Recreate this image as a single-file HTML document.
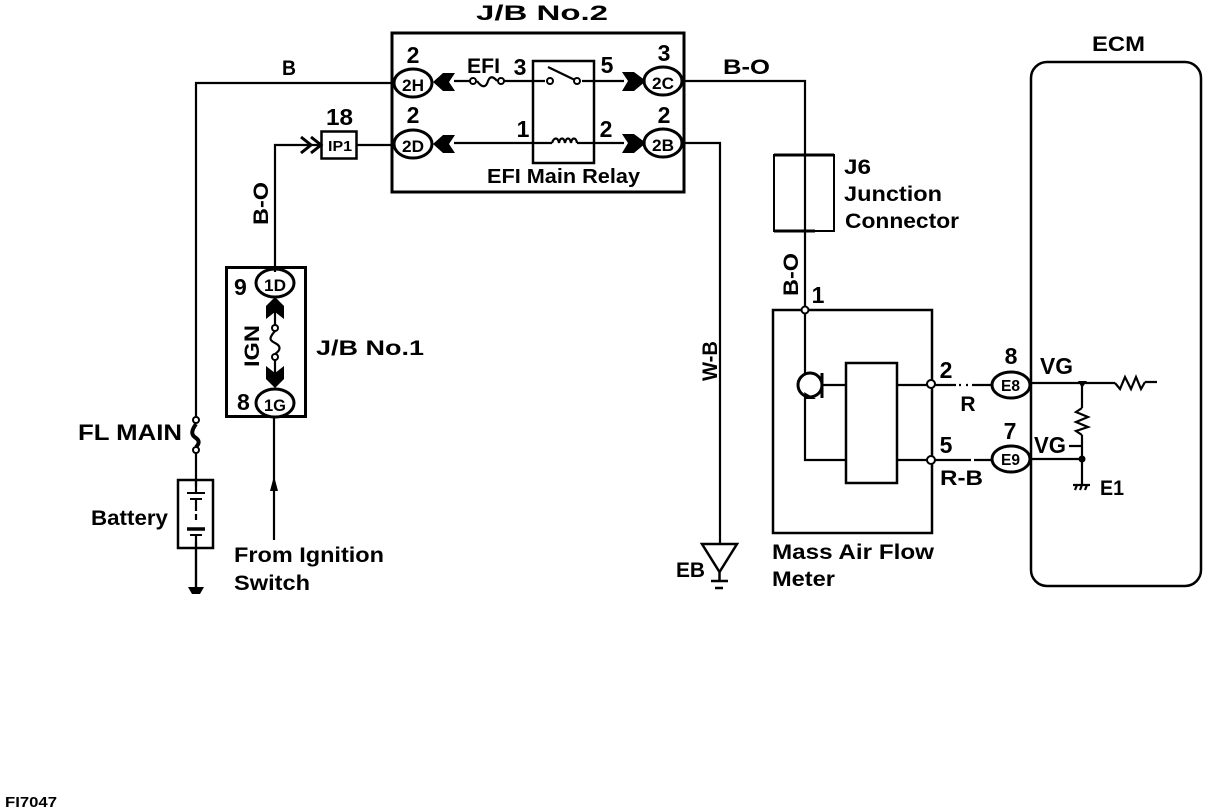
<!DOCTYPE html>
<html><head><meta charset="utf-8"><style>
html,body{margin:0;padding:0;background:#fff}
svg{display:block}
text{font-family:"Liberation Sans",sans-serif;fill:#000;font-weight:bold;stroke:none}
.w{fill:none;stroke:#000;stroke-width:2.200}
.t{fill:none;stroke:#000;stroke-width:3}
.o{fill:#fff;stroke:#000;stroke-width:3}
.c{fill:#fff;stroke:#000;stroke-width:2}
.k{fill:#000;stroke:none}
</style></head><body>
<svg width="1216" height="812" viewBox="0 0 1216 812" xmlns="http://www.w3.org/2000/svg">
<!-- wires -->
<path class="w" d="M392 83H196V420M196 450V590"/>
<path class="w" d="M392 145H357M321 145H275V268"/>
<path class="w" d="M684 81H805V310"/>
<path class="w" d="M684 143H720V545"/>
<path class="w" d="M274 417V540"/>
<path class="w" d="M454 81H473M501 81H545M582 81H624M454 143H552M577 143H624"/>
<path class="w" d="M932 385H956M959 385H961M966 385H968M972 385H992M932 460H971M974 460H992M1030 383H1115M1145 382H1157M1030 459H1082"/>
<path class="w" d="M1082 383V408M1082 435V486M1069 446H1082"/>
<!-- J/B No.2 -->
<rect x="392" y="33" width="292" height="159" class="w" style="stroke-width:3"/>
<rect x="533" y="61" width="61" height="102" class="w" style="stroke-width:2.500"/>
<!-- IP1 -->
<rect x="321.500" y="131.500" width="35" height="27" fill="#fff" stroke="#000" stroke-width="2.500"/>
<path class="t" d="M301 137L311 145L301 153M311 137L321 145L311 153"/>
<!-- J/B No.1 -->
<rect x="226.500" y="267.500" width="79" height="149" class="w" style="stroke-width:3"/>
<!-- J6 -->
<rect x="774" y="155" width="60" height="76" class="w" style="stroke-width:2"/>
<path class="t" d="M774 155H834M774 231H815"/>
<!-- MAF -->
<rect x="773" y="310" width="159" height="223" class="w" style="stroke-width:2.500"/>
<rect x="846" y="363" width="51" height="120" class="w" style="stroke-width:2.500"/>
<path class="w" d="M805 310V460H846M822 385H846M897 385H932M897 460H932"/>
<circle cx="810" cy="385" r="12" fill="#fff" stroke="#000" stroke-width="3"/>
<path class="t" d="M822 373V398"/>
<path class="k" d="M804 392L816 399L806 399Z"/>
<!-- ECM -->
<rect x="1031" y="62" width="170" height="524" rx="16" ry="16" class="w" style="stroke-width:2.500"/>
<!-- connector ovals -->
<ellipse cx="413" cy="83" rx="19" ry="14" class="o"/>
<ellipse cx="413" cy="144" rx="19" ry="14" class="o"/>
<ellipse cx="663" cy="81" rx="19" ry="14" class="o"/>
<ellipse cx="663" cy="143" rx="19" ry="14" class="o"/>
<ellipse cx="275" cy="283" rx="19" ry="14" class="o"/>
<ellipse cx="275" cy="403" rx="19" ry="14" class="o"/>
<ellipse cx="1011" cy="385" rx="19" ry="13" class="o"/>
<ellipse cx="1011" cy="459" rx="19" ry="13" class="o"/>
<!-- arrowheads -->
<polygon class="k" points="433,82 443,73 455,73 449,82 455,91 443,91"/>
<polygon class="k" points="433,144 443,135 455,135 449,144 455,153 443,153"/>
<polygon class="k" points="622,72 634,72 646,81 634,91 622,91 628,81"/>
<polygon class="k" points="622,134 634,134 646,143 634,153 622,153 628,143"/>
<polygon class="k" points="275,297 284,306 284,319 275,312 266,319 266,306"/>
<polygon class="k" points="275,388 284,379 284,366 275,373 266,366 266,379"/>
<polygon class="k" points="274,476 278,491 270,491"/>
<!-- fuses -->
<path class="w" d="M477 81C482 88 486 88 488 81C490 76 493 76 497 81"/>
<circle cx="473" cy="81" r="3" class="c"/><circle cx="501" cy="81" r="3" class="c"/>
<path class="w" d="M275 331C269 338 269 340 275 343C281 346 281 350 275 354M275 268V272M275 311V325M275 360V374"/>
<circle cx="275" cy="328" r="3" class="c"/><circle cx="275" cy="357" r="3" class="c"/>
<path class="t" style="stroke-width:4" d="M196 424C191 431 191 435 196 438C200 441 199 444 196 447"/>
<circle cx="196" cy="420" r="3" class="c"/><circle cx="196" cy="450" r="3" class="c"/>
<!-- relay -->
<path class="w" d="M548 67L577 81"/>
<circle cx="550" cy="81" r="3" class="c"/><circle cx="577" cy="81" r="3" class="c"/>
<path class="w" d="M552 143C554 137 558 137 559 143C560 137 564 137 565 143C566 137 570 137 571 143C572 137 576 137 577 143"/>
<!-- battery -->
<rect x="178" y="480" width="35" height="68" class="w" style="stroke-width:2.500"/>
<rect x="190" y="486" width="12" height="56" fill="#fff"/>
<path class="w" d="M196 479V493M196 499V511M196 514V520M196 535V590"/>
<path class="w" style="stroke-width:2" d="M187 493H205M190 499H202M190 535H202"/>
<path class="t" style="stroke-width:3.500" d="M187 529H205"/>
<path class="k" d="M188 587H204L200 594H192Z"/>
<!-- nodes -->
<circle cx="805" cy="310" r="3.500" class="c"/>
<circle cx="931" cy="384" r="4" class="c"/>
<circle cx="931" cy="460" r="4" class="c"/>
<path class="k" d="M1078 381H1087L1082 388Z"/>
<circle cx="1082" cy="459" r="3.500" class="k"/>
<path class="w" d="M1115 383L1120 389L1125 377L1131 389L1136 377L1141 389L1145 382"/>
<path class="w" d="M1082 408L1076 412L1088 417L1076 422L1088 427L1076 431L1082 435"/>
<path class="w" d="M1073 485H1090M1075 490L1077 485M1080 490L1082 485M1085 490L1087 485"/>
<!-- EB ground -->
<path class="w" style="stroke-width:2.500" d="M702 544H737L719.500 572ZM719.500 572V581M711 581H728M715 588H723"/>
<!-- labels -->
<text x="476" y="20" font-size="21" textLength="132" lengthAdjust="spacingAndGlyphs">J/B No.2</text>
<text x="282" y="75" font-size="21" textLength="14" lengthAdjust="spacingAndGlyphs">B</text>
<text x="413" y="63" font-size="23" text-anchor="middle">2</text>
<text x="413" y="123" font-size="23" text-anchor="middle">2</text>
<text x="467" y="73" font-size="21" textLength="33" lengthAdjust="spacingAndGlyphs">EFI</text>
<text x="520" y="75" font-size="23" text-anchor="middle">3</text>
<text x="607" y="73" font-size="23" text-anchor="middle">5</text>
<text x="523" y="137" font-size="23" text-anchor="middle">1</text>
<text x="606" y="137" font-size="23" text-anchor="middle">2</text>
<text x="664" y="61" font-size="23" text-anchor="middle">3</text>
<text x="664" y="123" font-size="23" text-anchor="middle">2</text>
<text x="487" y="183" font-size="20" textLength="153" lengthAdjust="spacingAndGlyphs">EFI Main Relay</text>
<text x="723" y="74" font-size="21" textLength="47" lengthAdjust="spacingAndGlyphs">B-O</text>
<text x="326" y="125" font-size="23" textLength="27" lengthAdjust="spacingAndGlyphs">18</text>
<text x="328" y="151" font-size="15" textLength="24" lengthAdjust="spacingAndGlyphs">IP1</text>
<text x="402" y="91" font-size="17" textLength="22" lengthAdjust="spacingAndGlyphs">2H</text>
<text x="402" y="152" font-size="17" textLength="22" lengthAdjust="spacingAndGlyphs">2D</text>
<text x="652" y="89" font-size="17" textLength="22" lengthAdjust="spacingAndGlyphs">2C</text>
<text x="652" y="151" font-size="17" textLength="22" lengthAdjust="spacingAndGlyphs">2B</text>
<text x="264" y="291" font-size="17" textLength="22" lengthAdjust="spacingAndGlyphs">1D</text>
<text x="264" y="411" font-size="17" textLength="22" lengthAdjust="spacingAndGlyphs">1G</text>
<text x="1001" y="391" font-size="16" textLength="19" lengthAdjust="spacingAndGlyphs">E8</text>
<text x="1001" y="465" font-size="16" textLength="19" lengthAdjust="spacingAndGlyphs">E9</text>
<text transform="translate(268,225) rotate(-90)" font-size="21" textLength="43" lengthAdjust="spacingAndGlyphs">B-O</text>
<text transform="translate(798,296) rotate(-90)" font-size="21" textLength="43" lengthAdjust="spacingAndGlyphs">B-O</text>
<text transform="translate(717,381) rotate(-90)" font-size="21" textLength="40" lengthAdjust="spacingAndGlyphs">W-B</text>
<text transform="translate(259,367) rotate(-90)" font-size="21" textLength="42" lengthAdjust="spacingAndGlyphs">IGN</text>
<text x="234" y="295" font-size="23">9</text>
<text x="237" y="410" font-size="23">8</text>
<text x="316" y="355" font-size="21" textLength="108" lengthAdjust="spacingAndGlyphs">J/B No.1</text>
<text x="78" y="440" font-size="22" textLength="104" lengthAdjust="spacingAndGlyphs">FL MAIN</text>
<text x="91" y="525" font-size="21" textLength="77" lengthAdjust="spacingAndGlyphs">Battery</text>
<text x="234" y="562" font-size="21" textLength="150" lengthAdjust="spacingAndGlyphs">From Ignition</text>
<text x="234" y="590" font-size="21" textLength="76" lengthAdjust="spacingAndGlyphs">Switch</text>
<text x="676" y="577" font-size="21" textLength="29" lengthAdjust="spacingAndGlyphs">EB</text>
<text x="844" y="174" font-size="21" textLength="27" lengthAdjust="spacingAndGlyphs">J6</text>
<text x="844" y="201" font-size="21" textLength="98" lengthAdjust="spacingAndGlyphs">Junction</text>
<text x="845" y="228" font-size="21" textLength="114" lengthAdjust="spacingAndGlyphs">Connector</text>
<text x="772" y="559" font-size="21" textLength="162" lengthAdjust="spacingAndGlyphs">Mass Air Flow</text>
<text x="772" y="586" font-size="21" textLength="63" lengthAdjust="spacingAndGlyphs">Meter</text>
<text x="818" y="303" font-size="23" text-anchor="middle">1</text>
<text x="946" y="378" font-size="23" text-anchor="middle">2</text>
<text x="968" y="411" font-size="21" text-anchor="middle">R</text>
<text x="946" y="453" font-size="23" text-anchor="middle">5</text>
<text x="940" y="485" font-size="21" textLength="43" lengthAdjust="spacingAndGlyphs">R-B</text>
<text x="1011" y="364" font-size="23" text-anchor="middle">8</text>
<text x="1010" y="439" font-size="23" text-anchor="middle">7</text>
<text x="1040" y="374" font-size="23" textLength="33" lengthAdjust="spacingAndGlyphs">VG</text>
<text x="1034" y="453" font-size="23" textLength="32" lengthAdjust="spacingAndGlyphs">VG</text>
<text x="1100" y="495" font-size="21" textLength="24" lengthAdjust="spacingAndGlyphs">E1</text>
<text x="1092" y="51" font-size="21" textLength="53" lengthAdjust="spacingAndGlyphs">ECM</text>
<text x="5" y="807" font-size="15" textLength="52" lengthAdjust="spacingAndGlyphs">FI7047</text>
</svg>
</body></html>
